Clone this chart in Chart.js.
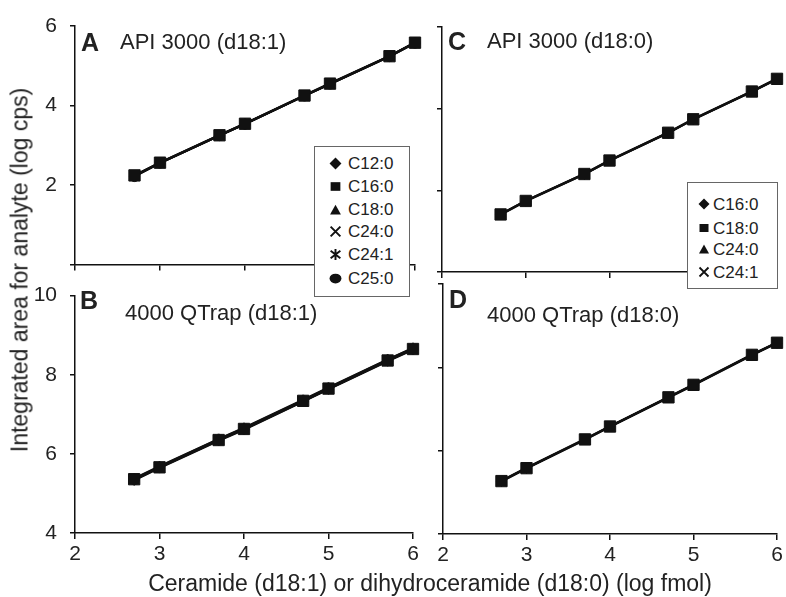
<!DOCTYPE html>
<html><head><meta charset="utf-8">
<script src="https://cdn.jsdelivr.net/npm/chart.js@4.4.0/dist/chart.umd.min.js"></script>
<style>
html,body{margin:0;padding:0;background:#fff;}
#wrap{position:relative;width:786px;height:597px;overflow:hidden;font-family:"Liberation Sans",Arial,Helvetica,sans-serif;color:#222;}
canvas{position:absolute;}
.lbl{position:absolute;white-space:nowrap;line-height:1;}
.letter{font-weight:bold;font-size:25px;}
.ptitle{font-size:22px;}
.axt{font-size:23px;}
.legend{position:absolute;background:#fff;border:1px solid #666;box-sizing:border-box;z-index:5;}
.legend .row{position:absolute;white-space:nowrap;line-height:1;}
</style></head>
<body>
<div id="wrap">
  <canvas id="cA" width="430" height="290" style="left:0;top:0"></canvas>
  <canvas id="cB" width="430" height="300" style="left:0;top:270px"></canvas>
  <canvas id="cC" width="386" height="290" style="left:400px;top:0"></canvas>
  <canvas id="cD" width="386" height="300" style="left:400px;top:270px"></canvas>

  <div class="lbl letter" style="left:81px;top:30px">A</div>
  <div class="lbl ptitle" style="left:120px;top:31px">API 3000 (d18:1)</div>
  <div class="lbl letter" style="left:80px;top:288px">B</div>
  <div class="lbl ptitle" style="left:125px;top:302px">4000 QTrap (d18:1)</div>
  <div class="lbl letter" style="left:448px;top:29px">C</div>
  <div class="lbl ptitle" style="left:487px;top:30px">API 3000 (d18:0)</div>
  <div class="lbl letter" style="left:449px;top:287px">D</div>
  <div class="lbl ptitle" style="left:487px;top:304px">4000 QTrap (d18:0)</div>

  <div class="lbl axt" style="left:20px;top:270px;transform:translate(-50%,-50%) rotate(-90deg)">Integrated area for analyte (log cps)</div>
  <div class="lbl axt" style="left:430px;top:583px;transform:translate(-50%,-50%)">Ceramide (d18:1) or dihydroceramide (d18:0) (log fmol)</div>

  <div class="legend" id="legA" style="left:314px;top:146px;width:96px;height:151px;font-size:17px"></div>
  <div class="legend" id="legC" style="left:687px;top:182px;width:91px;height:107px;font-size:17px"></div>
</div>
<script>
// x values (log fmol)
const xLogFmol = [2.7, 3, 3.7, 4, 4.7, 5, 5.7, 6];

// Panel A: API 3000 (d18:1)
const seriesA = ['C12:0', 'C16:0', 'C18:0', 'C24:0', 'C24:1', 'C25:0'];
const a_C12_0 = [2.22, 2.55, 3.24, 3.53, 4.24, 4.54, 5.23, 5.57];
const a_C16_0 = [2.24, 2.56, 3.25, 3.54, 4.25, 4.55, 5.24, 5.58];
const a_C18_0 = [2.23, 2.56, 3.25, 3.54, 4.25, 4.55, 5.24, 5.58];
const a_C24_0 = [2.24, 2.57, 3.26, 3.55, 4.26, 4.56, 5.25, 5.59];
const a_C24_1 = [2.23, 2.55, 3.24, 3.54, 4.25, 4.54, 5.24, 5.58];
const a_C25_0 = [2.21, 2.55, 3.24, 3.53, 4.24, 4.54, 5.23, 5.57];

// Panel B: 4000 QTrap (d18:1)
const b_C12_0 = [5.33, 5.64, 6.33, 6.61, 7.32, 7.63, 8.34, 8.63];
const b_C16_0 = [5.36, 5.66, 6.35, 6.63, 7.34, 7.65, 8.36, 8.65];
const b_C18_0 = [5.37, 5.68, 6.37, 6.65, 7.36, 7.67, 8.38, 8.67];
const b_C24_0 = [5.34, 5.65, 6.34, 6.62, 7.33, 7.64, 8.35, 8.64];
const b_C24_1 = [5.38, 5.69, 6.38, 6.66, 7.37, 7.68, 8.39, 8.68];
const b_C25_0 = [5.35, 5.66, 6.35, 6.63, 7.34, 7.65, 8.36, 8.65];

// Panel C: API 3000 (d18:0)
const seriesC = ['C16:0', 'C18:0', 'C24:0', 'C24:1'];
const c_C16_0 = [1.40, 1.73, 2.39, 2.72, 3.40, 3.73, 4.41, 4.72];
const c_C18_0 = [1.41, 1.74, 2.40, 2.73, 3.41, 3.74, 4.42, 4.73];
const c_C24_0 = [1.41, 1.74, 2.40, 2.73, 3.41, 3.74, 4.42, 4.73];
const c_C24_1 = [1.42, 1.75, 2.41, 2.74, 3.42, 3.75, 4.43, 4.74];

// Panel D: 4000 QTrap (d18:0)
const d_C16_0 = [5.26, 5.57, 6.26, 6.57, 7.27, 7.57, 8.29, 8.58];
const d_C18_0 = [5.27, 5.58, 6.27, 6.58, 7.28, 7.58, 8.30, 8.59];
const d_C24_0 = [5.27, 5.58, 6.27, 6.58, 7.28, 7.58, 8.30, 8.59];
const d_C24_1 = [5.28, 5.59, 6.28, 6.59, 7.29, 7.59, 8.31, 8.60];

// tick values
const yTicksTop = [0, 2, 4, 6];
const yTicksBottom = [4, 6, 8, 10];
const xTicks = [2, 3, 4, 5, 6];

Chart.defaults.font.family = '"Liberation Sans", Arial, Helvetica, sans-serif';
Chart.defaults.font.size = 21;
Chart.defaults.color = '#222';

const INK = '#111';
const styleMap = {
  'diamond': {pointStyle: 'rectRot', pointRadius: 5},
  'square': {pointStyle: 'rect', pointRadius: 8},
  'triangle': {pointStyle: 'triangle', pointRadius: 5},
  'x': {pointStyle: 'crossRot', pointRadius: 5},
  'star': {pointStyle: 'star', pointRadius: 5},
  'circle': {pointStyle: 'circle', pointRadius: 5}
};

function ds(label, ys, marker) {
  const st = styleMap[marker];
  return {
    label: label,
    data: xLogFmol.map((x, i) => ({x: x, y: ys[i]})),
    showLine: true,
    borderColor: INK,
    backgroundColor: INK,
    borderWidth: 2,
    pointStyle: st.pointStyle,
    pointRadius: st.pointRadius,
    pointBorderColor: INK,
    pointBackgroundColor: INK,
    pointBorderWidth: (marker === 'x' || marker === 'star') ? 2 : 1,
    tension: 0,
    clip: false,
    order: marker === 'square' ? 0 : 1
  };
}

function panel(id, datasets, o) {
  new Chart(document.getElementById(id), {
    type: 'scatter',
    data: {datasets: datasets},
    options: {
      responsive: false,
      animation: false,
      events: [],
      layout: {padding: {top: o.padTop, right: o.padRight, left: 0, bottom: 0}},
      plugins: {legend: {display: false}, tooltip: {enabled: false}},
      scales: {
        x: {
          type: 'linear', min: xTicks[0], max: xTicks[xTicks.length - 1],
          afterBuildTicks: s => { s.ticks = xTicks.map(v => ({value: v})); },
          ticks: {display: o.showX, padding: 3, color: '#222'},
          grid: {drawOnChartArea: false, drawTicks: true, tickLength: 6, color: INK, lineWidth: 1.5},
          border: {display: true, color: INK, width: 1.5},
          afterFit: s => { s.height = o.xh; }
        },
        y: {
          type: 'linear', min: o.yTicks[0], max: o.yTicks[o.yTicks.length - 1],
          afterBuildTicks: s => { s.ticks = o.yTicks.map(v => ({value: v})); },
          ticks: {display: o.showY, padding: 13, color: '#222',
                  callback: v => (o.hideZero && v === 0) ? '' : String(v)},
          grid: {drawOnChartArea: false, drawTicks: true, tickLength: 5, color: INK, lineWidth: 1.5},
          border: {display: true, color: INK, width: 1.5},
          afterFit: s => { s.width = o.yw; }
        }
      }
    }
  });
}

panel('cA', [
  ds(seriesA[0], a_C12_0, 'diamond'), ds(seriesA[1], a_C16_0, 'square'),
  ds(seriesA[2], a_C18_0, 'triangle'), ds(seriesA[3], a_C24_0, 'x'),
  ds(seriesA[4], a_C24_1, 'star'), ds(seriesA[5], a_C25_0, 'circle')
], {padTop: 26, padRight: 15, xh: 20, yw: 75, yTicks: yTicksTop, showX: false, showY: true, hideZero: true});

panel('cB', [
  ds(seriesA[0], b_C12_0, 'diamond'), ds(seriesA[1], b_C16_0, 'square'),
  ds(seriesA[2], b_C18_0, 'triangle'), ds(seriesA[3], b_C24_0, 'x'),
  ds(seriesA[4], b_C24_1, 'star'), ds(seriesA[5], b_C25_0, 'circle')
], {padTop: 15, padRight: 17, xh: 37, yw: 75, yTicks: yTicksBottom, showX: true, showY: true, hideZero: false});

panel('cC', [
  ds(seriesC[0], c_C16_0, 'diamond'), ds(seriesC[1], c_C18_0, 'square'),
  ds(seriesC[2], c_C24_0, 'triangle'), ds(seriesC[3], c_C24_1, 'x')
], {padTop: 27, padRight: 5, xh: 18, yw: 42, yTicks: yTicksTop, showX: false, showY: false, hideZero: false});

panel('cD', [
  ds(seriesC[0], d_C16_0, 'diamond'), ds(seriesC[1], d_C18_0, 'square'),
  ds(seriesC[2], d_C24_0, 'triangle'), ds(seriesC[3], d_C24_1, 'x')
], {padTop: 14, padRight: 5, xh: 36, yw: 43, yTicks: yTicksBottom, showX: true, showY: false, hideZero: false});

// Legends (HTML text, SVG markers)
function markerSvg(kind, sz) {
  const s = {
    diamond: '<polygon points="6,0.5 11.5,6 6,11.5 0.5,6" fill="#111"/>',
    square: '<rect x="1.5" y="2" width="9" height="8" fill="#111"/>',
    triangle: '<polygon points="6,1.5 11,10.5 1,10.5" fill="#111"/>',
    x: '<path d="M1.5,1.5 L10.5,10.5 M10.5,1.5 L1.5,10.5" stroke="#111" stroke-width="1.8"/>',
    star: '<path d="M1.5,2.5 L10.5,9.5 M10.5,2.5 L1.5,9.5 M6,1 L6,11" stroke="#111" stroke-width="1.8"/>',
    circle: '<ellipse cx="6" cy="6" rx="5.5" ry="4.5" fill="#111"/>'
  }[kind];
  return '<svg width="' + sz + '" height="' + sz + '" viewBox="0 0 12 12" style="display:block">' + s + '</svg>';
}
function buildLegend(id, labels, markers, rowsY, markX, textX, sz, fs) {
  const el = document.getElementById(id);
  let h = '';
  labels.forEach((lab, i) => {
    const cy = rowsY[i];
    h += '<div style="position:absolute;left:' + (markX - sz / 2) + 'px;top:' + (cy - sz / 2) + 'px;width:' + sz + 'px;height:' + sz + 'px">' + markerSvg(markers[i], sz) + '</div>';
    h += '<div class="row" style="left:' + textX + 'px;top:' + (cy - fs / 2) + 'px">' + lab + '</div>';
  });
  el.innerHTML = h;
}
buildLegend('legA', seriesA, ['diamond', 'square', 'triangle', 'x', 'star', 'circle'],
  [16, 39, 62, 84, 107, 131], 20, 33, 13, 17);
buildLegend('legC', seriesC, ['diamond', 'square', 'triangle', 'x'],
  [21, 45, 66, 89], 16, 25, 12, 17);
</script>
</body></html>
